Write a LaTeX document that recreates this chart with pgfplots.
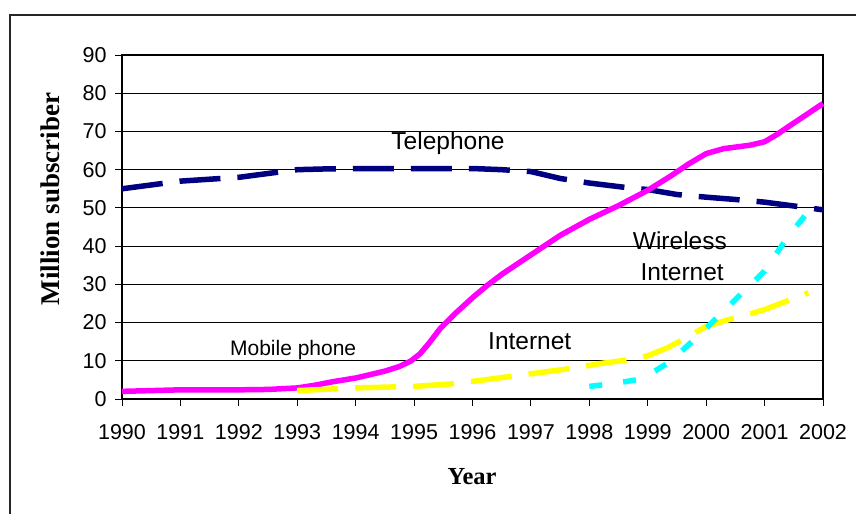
\documentclass[border=0pt]{standalone}
\usepackage{fontspec}
\setmainfont{Liberation Sans}
\newfontfamily\timesfont{Liberation Serif}
\usepackage{pgfplots}
\pgfplotsset{compat=1.18}
\definecolor{navy}{HTML}{000080}
\definecolor{mag}{HTML}{FF00FF}
\definecolor{yel}{HTML}{FFFF00}
\definecolor{cya}{HTML}{00FFFF}
\begin{document}
\begin{tikzpicture}
\useasboundingbox (0,0) rectangle (856bp,514bp);
\fill[white] (0,0) rectangle (856bp,514bp);
\draw[line width=1.3bp, black!85] (10bp,-5bp) -- (10bp,499bp) -- (870bp,499bp);
\begin{axis}[
  at={(122bp,115bp)}, anchor=south west,
  scale only axis, width=701bp, height=344bp,
  xmin=1990, xmax=2002, ymin=0, ymax=90,
  xtick={1990,1991,...,2002}, ytick={0,10,...,90},
  xtick pos=lower, ytick pos=left,
  ymajorgrids, grid style={black, line width=0.9bp},
  tick align=outside, major tick length=7bp,
  tick style={black, line width=0.9bp},
  axis line style={black, line width=2bp},
  /pgf/number format/assume math mode=true,
  /pgf/number format/1000 sep={},
  tick label style={font=\fontsize{21.5bp}{24bp}\selectfont},
  yticklabel style={xshift=-5bp},
  xticklabel style={yshift=-15bp},
  clip=false,
]
\addplot[navy, line width=5.5bp, dash pattern=on 41bp off 17bp] coordinates {
(1990,55) (1990.5,56) (1991,57) (1991.5,57.5) (1992,58) (1992.5,59) (1993,60)
(1993.5,60.2) (1994,60.3) (1995,60.3) (1996,60.3) (1996.5,60) (1997,59.5)
(1997.5,57.7) (1998,56.5) (1998.7,55.2) (1999,54.8) (1999.5,53.5) (2000,52.8)
(2000.5,52.2) (2001,51.5) (2001.5,50.5) (2002,49.5)};
\addplot[mag, line width=5.5bp] coordinates {
(1990,2) (1990.5,2.2) (1991,2.4) (1991.5,2.4) (1992,2.4) (1992.5,2.5) (1993,2.9)
(1993.3,3.6) (1993.6,4.5) (1994,5.5) (1994.2,6.2) (1994.5,7.3) (1994.75,8.5)
(1994.95,10) (1995.1,11.8) (1995.25,14.5) (1995.45,18.5) (1995.7,22.3) (1996,26.5)
(1996.25,29.7) (1996.5,32.6) (1997,37.7) (1997.5,42.8) (1998,47)
(1998.5,50.6) (1999,54.6) (1999.4,58.4) (1999.7,61.5) (2000,64.2) (2000.3,65.5)
(2000.75,66.4) (2001,67.3) (2001.2,69.1) (2001.5,72.2) (2002,77.3)};
\addplot[yel, line width=5.5bp, dash pattern=on 41bp off 17bp] coordinates {
(1993,2.2) (1994,2.9) (1995,3.3) (1995.6,3.9) (1996,4.6) (1996.7,6) (1997.7,8)
(1998.2,9.3) (1998.7,10.3) (1999,11.3) (1999.35,13.5) (1999.67,16.1) (2000,19)
(2000.35,20.6) (2000.7,22) (2001,23.4) (2001.5,26.3) (2001.75,27.8)};
\addplot[cya, line width=5.5bp, dash pattern=on 13bp off 21bp] coordinates {
(1998,3.3) (1998.4,4) (1998.8,5) (1999.1,7.1) (1999.35,9.5) (1999.6,12.8)
(2000,18.5) (2000.5,26) (2001,33.5) (2001.4,42.5) (2001.88,51.5)};
\node[font=\fontsize{24.5bp}{28bp}\selectfont] at (axis cs:1995.58,67) {Telephone};
\node[font=\fontsize{21bp}{24bp}\selectfont] at (axis cs:1992.93,12.8) {Mobile phone};
\node[font=\fontsize{24.5bp}{28bp}\selectfont] at (axis cs:1996.98,15.2) {Internet};
\node[font=\fontsize{24.5bp}{28bp}\selectfont] at (axis cs:1999.55,41.3) {Wireless};
\node[font=\fontsize{24.5bp}{28bp}\selectfont] at (axis cs:1999.59,33.2) {Internet};
\end{axis}
\node[font=\timesfont\bfseries\fontsize{24.5bp}{28bp}\selectfont] at (472bp,37bp) {Year};
\node[rotate=90, font=\timesfont\bfseries\fontsize{27bp}{30bp}\selectfont] at (50bp,315bp) {Million subscriber};
\end{tikzpicture}
\end{document}
